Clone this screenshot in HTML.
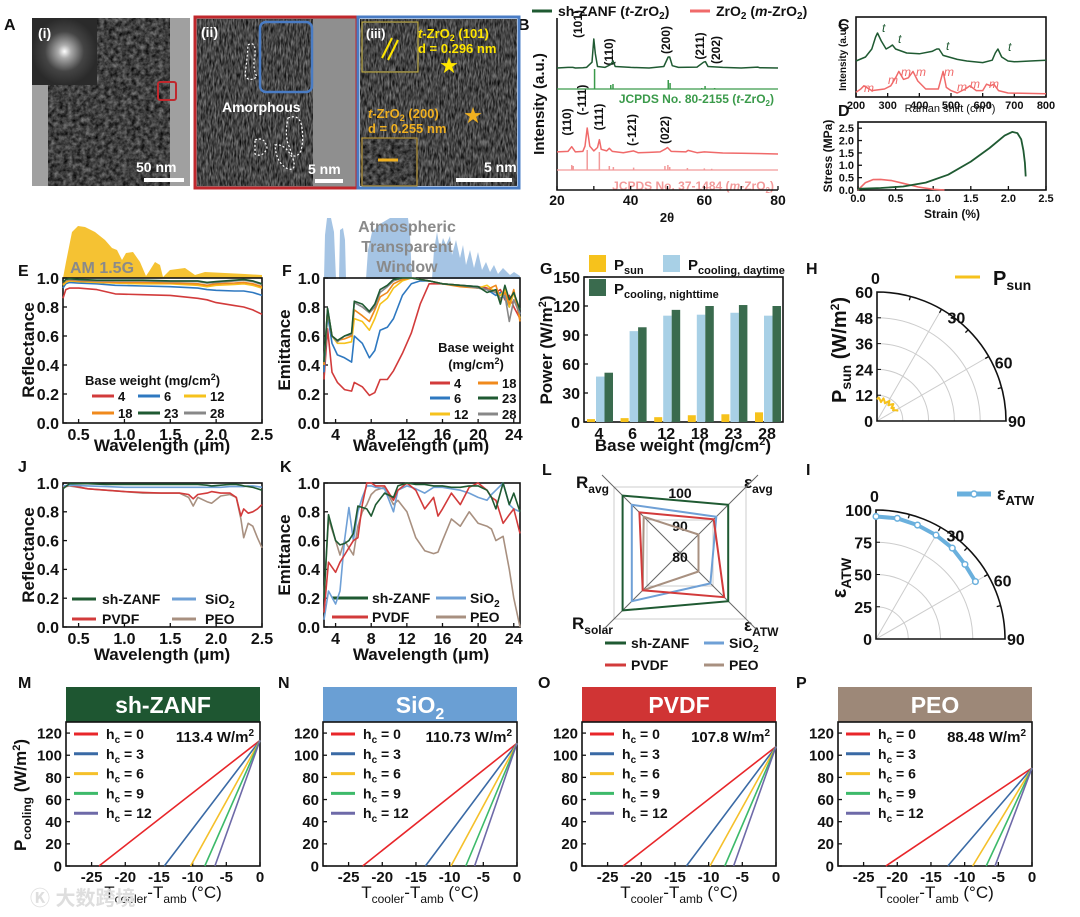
<!DOCTYPE html>
<html><head><meta charset="utf-8"><style>
html,body{margin:0;padding:0;background:#fff}
svg{display:block;font-family:"Liberation Sans","Noto Sans CJK SC",sans-serif;font-weight:bold}
</style></head><body>
<svg id="fig" width="1080" height="917" viewBox="0 0 1080 917" xmlns="http://www.w3.org/2000/svg">
<defs>
<filter id="tex" x="0" y="0" width="1" height="1" color-interpolation-filters="sRGB"><feTurbulence type="fractalNoise" baseFrequency="0.22" numOctaves="3" seed="4"/><feColorMatrix type="matrix" values="0.6 0 0 0 -0.05  0.6 0 0 0 -0.05  0.6 0 0 0 -0.05  0 0 0 0 1"/></filter>
<filter id="tex2" x="0" y="0" width="1" height="1" color-interpolation-filters="sRGB"><feTurbulence type="fractalNoise" baseFrequency="0.6 0.15" numOctaves="2" seed="9"/><feColorMatrix type="matrix" values="0.7 0 0 0 -0.08  0.7 0 0 0 -0.08  0.7 0 0 0 -0.08  0 0 0 0 1"/></filter>
<radialGradient id="fft"><stop offset="0" stop-color="#fff"/><stop offset="0.2" stop-color="#aaa"/><stop offset="0.6" stop-color="#444"/><stop offset="1" stop-color="#2a2a2a"/></radialGradient>
</defs>

<g font-size="16" fill="#111">
<text x="4" y="30">A</text><text x="518" y="30">B</text><text x="838" y="30">C</text><text x="838" y="116">D</text>
<text x="18" y="276">E</text><text x="282" y="276">F</text><text x="540" y="274">G</text><text x="806" y="274">H</text>
<text x="18" y="472">J</text><text x="280" y="472">K</text><text x="542" y="475">L</text><text x="806" y="475">I</text>
<text x="18" y="688">M</text><text x="278" y="688">N</text><text x="538" y="688">O</text><text x="796" y="688">P</text>
</g>

<g>
<rect x="32" y="18" width="158" height="168" fill="#a0a0a0"/>
<rect x="48" y="18" width="122" height="168" filter="url(#tex)"/>
<rect x="32" y="18" width="65" height="67" fill="url(#fft)"/>
<text x="38" y="38" fill="#fff" font-size="14">(i)</text>
<rect x="158" y="82" width="18" height="18" fill="none" stroke="#c0282d" stroke-width="2" rx="2"/>
<text x="136" y="172" fill="#fff" font-size="14">50 nm</text>
<rect x="144" y="178" width="40" height="4" fill="#fff"/>
</g>
<g>
<rect x="195" y="17" width="162" height="171" fill="#8f8f8f"/>
<rect x="197" y="19" width="116" height="167" filter="url(#tex2)"/>
<rect x="260" y="22" width="52" height="70" rx="6" fill="none" stroke="#4a7cc4" stroke-width="2.5"/>
<path d="M248 45 q8 -5 7 10 q-3 12 2 22 q-10 6 -12 -3 q2 -12 3 -29z M288 118 q12 -5 14 10 q2 15 -2 25 q-8 8 -10 -5 q-6 -10 -2 -30z M255 140 q10 -4 12 8 q-4 10 -12 6z M275 145 q10 -2 18 14 q4 12 -5 10 q-12 -6 -13 -24z" fill="none" stroke="#fff" stroke-width="1.2" stroke-dasharray="2 2"/>
<text x="222" y="112" fill="#fff" font-size="14">Amorphous</text>
<text x="201" y="37" fill="#fff" font-size="14">(ii)</text>
<text x="308" y="174" fill="#fff" font-size="14">5 nm</text>
<rect x="315" y="179" width="28" height="4" fill="#fff"/>
<rect x="195" y="17" width="162" height="171" fill="none" stroke="#c0282d" stroke-width="3"/>
</g>
<g>
<rect x="360" y="19" width="157" height="167" filter="url(#tex2)"/>
<rect x="362" y="22" width="56" height="50" fill="#555" stroke="#c9b23a" stroke-width="1"/>
<rect x="363" y="23" width="54" height="48" filter="url(#tex2)"/>
<line x1="382" y1="58" x2="392" y2="38" stroke="#ffe600" stroke-width="2"/><line x1="388" y1="60" x2="398" y2="40" stroke="#ffe600" stroke-width="2"/>
<text x="366" y="38" fill="#fff" font-size="13">(iii)</text>
<text x="418" y="38" fill="#ffe600" font-size="13"><tspan font-style="italic">t</tspan>-ZrO<tspan font-size="9" dy="3">2</tspan><tspan dy="-3"> (101)</tspan></text>
<text x="418" y="53" fill="#ffe600" font-size="13">d = 0.296 nm</text>
<text x="440" y="72" fill="#ffe600" font-size="18">★</text>
<text x="368" y="118" fill="#f0b020" font-size="13"><tspan font-style="italic">t</tspan>-ZrO<tspan font-size="9" dy="3">2</tspan><tspan dy="-3"> (200)</tspan></text>
<text x="368" y="133" fill="#f0b020" font-size="13">d = 0.255 nm</text>
<text x="464" y="122" fill="#f0b020" font-size="18">★</text>
<rect x="362" y="138" width="55" height="48" fill="#444" stroke="#c9a030" stroke-width="1"/>
<rect x="363" y="139" width="53" height="46" filter="url(#tex)"/>
<line x1="378" y1="160" x2="398" y2="160" stroke="#f0b020" stroke-width="3"/>
<text x="484" y="172" fill="#fff" font-size="14">5 nm</text>
<rect x="456" y="178" width="56" height="4" fill="#fff"/>
<rect x="358" y="17" width="161" height="171" fill="none" stroke="#4a7cc4" stroke-width="3"/>
</g>

<g font-size="14">
<line x1="532" y1="11" x2="552" y2="11" stroke="#1f5a32" stroke-width="3"/>
<text x="558" y="16" fill="#111">sh-ZANF (<tspan font-style="italic">t</tspan>-ZrO<tspan font-size="10" dy="3">2</tspan><tspan dy="-3">)</tspan></text>
<line x1="690" y1="11" x2="710" y2="11" stroke="#f06a6a" stroke-width="3"/>
<text x="716" y="16" fill="#111">ZrO<tspan font-size="10" dy="3">2</tspan><tspan dy="-3"> (</tspan><tspan font-style="italic">m</tspan>-ZrO<tspan font-size="10" dy="3">2</tspan><tspan dy="-3">)</tspan></text>
</g>
<g font-size="12" fill="#111">
<text transform="translate(582,24) rotate(-90)" text-anchor="middle">(101)</text>
<text transform="translate(613,52) rotate(-90)" text-anchor="middle">(110)</text>
<text transform="translate(670,40) rotate(-90)" text-anchor="middle">(200)</text>
<text transform="translate(704,46) rotate(-90)" text-anchor="middle">(211)</text>
<text transform="translate(720,50) rotate(-90)" text-anchor="middle">(202)</text>
<text transform="translate(571,122) rotate(-90)" text-anchor="middle">(110)</text>
<text transform="translate(586,100) rotate(-90)" text-anchor="middle">(-111)</text>
<text transform="translate(603,117) rotate(-90)" text-anchor="middle">(111)</text>
<text transform="translate(636,130) rotate(-90)" text-anchor="middle">(-121)</text>
<text transform="translate(669,130) rotate(-90)" text-anchor="middle">(022)</text>
<text x="774" y="103" text-anchor="end" fill="#3a9a4a" font-size="12">JCPDS No. 80-2155 (<tspan font-style="italic">t</tspan>-ZrO<tspan font-size="8" dy="3">2</tspan><tspan dy="-3">)</tspan></text>
<text x="774" y="190" text-anchor="end" fill="#f29a9a" font-size="12">JCPDS No. 37-1484 (<tspan font-style="italic">m</tspan>-ZrO<tspan font-size="8" dy="3">2</tspan><tspan dy="-3">)</tspan></text>
<text transform="translate(544,104) rotate(-90)" text-anchor="middle" font-size="15">Intensity (a.u.)</text>
<text x="667" y="222" text-anchor="middle" font-size="13">2θ</text>
</g>
<g font-size="12" font-style="italic" font-weight="normal">
<text x="846" y="57" transform="rotate(-90,846,57)" text-anchor="middle" font-style="normal" font-weight="bold" font-size="10" fill="#111">Intensity (a.u.)</text>
<text x="950" y="112" text-anchor="middle" font-style="normal" font-size="11" fill="#111">Raman shift (cm<tspan font-size="8" dy="-4">-1</tspan><tspan dy="4">)</tspan></text>
<g fill="#1f5a32"><text x="882" y="32">t</text><text x="898" y="43">t</text><text x="946" y="50">t</text><text x="1008" y="51">t</text></g>
<g fill="#f06a6a"><text x="864" y="92">m</text><text x="888" y="84">m</text><text x="901" y="76">m</text><text x="916" y="76">m</text><text x="944" y="76">m</text><text x="957" y="91">m</text><text x="970" y="88">m</text><text x="989" y="88">m</text></g>
</g>
<g font-size="12" fill="#111">
<text transform="translate(832,156) rotate(-90)" text-anchor="middle" font-size="12">Stress (MPa)</text>
<text x="952" y="218" text-anchor="middle">Strain (%)</text>
</g>

<g>
<path d="M63 278 L66 262 L72 232 L78 226 L85 227 L95 232 L105 240 L112 248 L117 250 L122 260 L126 253 L133 252 L140 262 L146 276 L150 270 L155 262 L160 265 L163 277 L170 270 L185 268 L195 275 L205 272 L225 273 L245 274 L262 275 L262 278Z" fill="#f5c233"/>
<text x="70" y="273" fill="#8a8a8a" font-size="16">AM 1.5G</text>
</g>
<g>
<path d="M324 279 L325 235 L327 218 L331 218 L334 232 L336 279 L339 279 L340 230 L343 228 L345 240 L346 279 L366 279 L368 250 L372 232 L380 224 L390 218 L408 218 L410 235 L412 279 L432 279 L434 250 L437 232 L440 250 L443 238 L446 245 L450 236 L452 255 L456 240 L460 258 L463 245 L466 265 L470 250 L474 268 L478 252 L482 270 L486 262 L490 272 L494 265 L498 274 L503 268 L510 275 L514 272 L520 276 L520 279Z" fill="#8fb5dd" opacity="0.8"/>
<g fill="#8a8a8a" font-size="16" text-anchor="middle"><text x="407" y="232">Atmospheric</text><text x="407" y="252">Transparent</text><text x="407" y="272">Window</text></g>
</g>

<g font-size="13" fill="#111">
<text x="85" y="385">Base weight (mg/cm<tspan font-size="9" dy="-5">2</tspan><tspan dy="5">)</tspan></text>
<line x1="92" y1="396" x2="114" y2="396" stroke="#d23b3b" stroke-width="3"/><text x="118" y="401">4</text>
<line x1="138" y1="396" x2="160" y2="396" stroke="#2e78c0" stroke-width="3"/><text x="164" y="401">6</text>
<line x1="184" y1="396" x2="206" y2="396" stroke="#f6c21c" stroke-width="3"/><text x="210" y="401">12</text>
<line x1="92" y1="413" x2="114" y2="413" stroke="#f08a1c" stroke-width="3"/><text x="118" y="418">18</text>
<line x1="138" y1="413" x2="160" y2="413" stroke="#1f5a32" stroke-width="3"/><text x="164" y="418">23</text>
<line x1="184" y1="413" x2="206" y2="413" stroke="#888" stroke-width="3"/><text x="210" y="418">28</text>
</g>
<g font-size="13" fill="#111">
<text x="476" y="352" text-anchor="middle">Base weight</text>
<text x="476" y="369" text-anchor="middle">(mg/cm<tspan font-size="9" dy="-5">2</tspan><tspan dy="5">)</tspan></text>
<line x1="430" y1="383" x2="450" y2="383" stroke="#d23b3b" stroke-width="3"/><text x="454" y="388">4</text>
<line x1="478" y1="383" x2="498" y2="383" stroke="#f08a1c" stroke-width="3"/><text x="502" y="388">18</text>
<line x1="430" y1="398" x2="450" y2="398" stroke="#2e78c0" stroke-width="3"/><text x="454" y="403">6</text>
<line x1="478" y1="398" x2="498" y2="398" stroke="#1f5a32" stroke-width="3"/><text x="502" y="403">23</text>
<line x1="430" y1="414" x2="450" y2="414" stroke="#f6c21c" stroke-width="3"/><text x="454" y="419">12</text>
<line x1="478" y1="414" x2="498" y2="414" stroke="#888" stroke-width="3"/><text x="502" y="419">28</text>
</g>
<g font-size="15" fill="#111">
<rect x="589" y="255" width="17" height="17" fill="#f6c21c"/><text x="614" y="270">P<tspan font-size="11" dy="4">sun</tspan></text>
<rect x="663" y="255" width="17" height="17" fill="#a8d0e6"/><text x="688" y="270">P<tspan font-size="11" dy="4">cooling, daytime</tspan></text>
<rect x="589" y="279" width="17" height="17" fill="#3a6b4e"/><text x="614" y="294">P<tspan font-size="11" dy="4">cooling, nighttime</tspan></text>
</g>
<g font-size="14" fill="#111">
<line x1="72" y1="599" x2="96" y2="599" stroke="#1f5a32" stroke-width="3"/><text x="102" y="604">sh-ZANF</text>
<line x1="172" y1="599" x2="196" y2="599" stroke="#6fa0d6" stroke-width="3"/><text x="205" y="604">SiO<tspan font-size="10" dy="4">2</tspan></text>
<line x1="72" y1="619" x2="96" y2="619" stroke="#d23b3b" stroke-width="3"/><text x="102" y="624">PVDF</text>
<line x1="172" y1="619" x2="196" y2="619" stroke="#a89080" stroke-width="3"/><text x="205" y="624">PEO</text>
</g>
<g font-size="14" fill="#111">
<line x1="332" y1="598" x2="368" y2="598" stroke="#1f5a32" stroke-width="3"/><text x="372" y="603">sh-ZANF</text>
<line x1="436" y1="598" x2="466" y2="598" stroke="#6fa0d6" stroke-width="3"/><text x="470" y="603">SiO<tspan font-size="10" dy="4">2</tspan></text>
<line x1="332" y1="617" x2="368" y2="617" stroke="#d23b3b" stroke-width="3"/><text x="372" y="622">PVDF</text>
<line x1="436" y1="617" x2="466" y2="617" stroke="#a89080" stroke-width="3"/><text x="470" y="622">PEO</text>
</g>
<g font-size="14" fill="#111">
<line x1="605" y1="643" x2="626" y2="643" stroke="#1f5a32" stroke-width="3"/><text x="631" y="648">sh-ZANF</text>
<line x1="704" y1="643" x2="724" y2="643" stroke="#6fa0d6" stroke-width="3"/><text x="729" y="648">SiO<tspan font-size="10" dy="4">2</tspan></text>
<line x1="605" y1="665" x2="626" y2="665" stroke="#d23b3b" stroke-width="3"/><text x="631" y="670">PVDF</text>
<line x1="704" y1="665" x2="724" y2="665" stroke="#a89080" stroke-width="3"/><text x="729" y="670">PEO</text>
</g>
<g font-size="17" fill="#111">
<text x="576" y="488">R<tspan font-size="12" dy="5">avg</tspan></text>
<text x="744" y="488">ε<tspan font-size="12" dy="5">avg</tspan></text>
<text x="572" y="629">R<tspan font-size="12" dy="5">solar</tspan></text>
<text x="744" y="631">ε<tspan font-size="12" dy="5">ATW</tspan></text>
</g>
<g font-size="20" fill="#111">
<line x1="955" y1="277" x2="980" y2="277" stroke="#f6c21c" stroke-width="3"/><text x="993" y="285">P<tspan font-size="14" dy="5">sun</tspan></text>
</g>
<g font-size="18" fill="#111">
<line x1="957" y1="494" x2="991" y2="494" stroke="#6ab0dd" stroke-width="5"/><circle cx="974" cy="494" r="3" fill="#fff" stroke="#6ab0dd" stroke-width="1.5"/><text x="997" y="500">ε<tspan font-size="13" dy="5">ATW</tspan></text>
</g>
<g font-size="17" fill="#111" text-anchor="middle">
<text transform="translate(34,350) rotate(-90)">Reflectance</text>
<text x="162" y="451">Wavelength (μm)</text>
<text transform="translate(290,350) rotate(-90)">Emittance</text>
<text x="421" y="451">Wavelength (μm)</text>
<text transform="translate(552,350) rotate(-90)">Power (W/m<tspan font-size="11" dy="-6">2</tspan><tspan dy="6">)</tspan></text>
<text x="683" y="451">Base weight (mg/cm<tspan font-size="11" dy="-6">2</tspan><tspan dy="6">)</tspan></text>
<text transform="translate(846,350) rotate(-90)" font-size="20">P<tspan font-size="14" dy="5">sun</tspan><tspan dy="-5"> (W/m</tspan><tspan font-size="12" dy="-7">2</tspan><tspan dy="7">)</tspan></text>
<text transform="translate(34,555) rotate(-90)">Reflectance</text>
<text x="162" y="660">Wavelength (μm)</text>
<text transform="translate(290,555) rotate(-90)">Emittance</text>
<text x="421" y="660">Wavelength (μm)</text>
<text transform="translate(846,578) rotate(-90)" font-size="20">ε<tspan font-size="14" dy="5">ATW</tspan></text>
<text transform="translate(26,795) rotate(-90)">P<tspan font-size="12" dy="5">cooling</tspan><tspan dy="-5"> (W/m</tspan><tspan font-size="11" dy="-6">2</tspan><tspan dy="6">)</tspan></text>
<text x="163" y="898" font-weight="normal" font-size="17">T<tspan font-size="12" dy="5">cooler</tspan><tspan dy="-5">-T</tspan><tspan font-size="12" dy="5">amb</tspan><tspan dy="-5"> (°C)</tspan></text>
<text x="420" y="898" font-weight="normal" font-size="17">T<tspan font-size="12" dy="5">cooler</tspan><tspan dy="-5">-T</tspan><tspan font-size="12" dy="5">amb</tspan><tspan dy="-5"> (°C)</tspan></text>
<text x="679" y="898" font-weight="normal" font-size="17">T<tspan font-size="12" dy="5">cooler</tspan><tspan dy="-5">-T</tspan><tspan font-size="12" dy="5">amb</tspan><tspan dy="-5"> (°C)</tspan></text>
<text x="935" y="898" font-weight="normal" font-size="17">T<tspan font-size="12" dy="5">cooler</tspan><tspan dy="-5">-T</tspan><tspan font-size="12" dy="5">amb</tspan><tspan dy="-5"> (°C)</tspan></text>
</g>
<g font-size="23" fill="#fff" text-anchor="middle">
<rect x="66" y="687" width="194" height="35" fill="#1e5631"/><text x="163" y="713">sh-ZANF</text>
<rect x="323" y="687" width="194" height="35" fill="#6a9fd4"/><text x="420" y="713">SiO<tspan font-size="16" dy="6">2</tspan></text>
<rect x="582" y="687" width="194" height="35" fill="#d03434"/><text x="679" y="713">PVDF</text>
<rect x="838" y="687" width="194" height="35" fill="#9d8878"/><text x="935" y="713">PEO</text>
</g>
<g font-size="15" fill="#111" text-anchor="end">
<text x="254" y="742">113.4 W/m<tspan font-size="10" dy="-6">2</tspan></text>
<text x="512" y="742">110.73 W/m<tspan font-size="10" dy="-6">2</tspan></text>
<text x="770" y="742">107.8 W/m<tspan font-size="10" dy="-6">2</tspan></text>
<text x="1026" y="742">88.48 W/m<tspan font-size="10" dy="-6">2</tspan></text>
</g>
<text x="30" y="905" fill="#dedede" font-size="20">Ⓚ 大数跨境</text>

<g id="dyn"></g>
</svg>
<script>
const NS='http://www.w3.org/2000/svg';
const root=document.getElementById('dyn');
function el(tag,attrs,parent){const e=document.createElementNS(NS,tag);for(const k in attrs)e.setAttribute(k,attrs[k]);(parent||root).appendChild(e);return e;}
function sc(d0,d1,r0,r1){return v=>r0+(v-d0)/(d1-d0)*(r1-r0);}
function path(xs,ys,sx,sy,color,w,name){
  const p=el('path',{d:xs.map((x,i)=>(i?'L':'M')+sx(x).toFixed(1)+','+sy(ys[i]).toFixed(1)).join(''),fill:'none',stroke:color,'stroke-width':w||1.6,'stroke-linejoin':'round'});
  
  
  return p;}
function axes(x0,y0,x1,y1,sx,sy,xt,xl,yt,yl,fs,top){
  const g=el('g',{'font-size':fs,fill:'#111'});
  
  
  if(top!==false) el('rect',{x:x0,y:y0,width:x1-x0,height:y1-y0,fill:'none',stroke:'#111','stroke-width':1.6},g);
  else el('path',{d:`M${x0},${y0}V${y1}H${x1}`,fill:'none',stroke:'#111','stroke-width':1.6},g);
  xt.forEach((v,i)=>{const x=sx(v);el('line',{x1:x,x2:x,y1:y1,y2:y1-4,stroke:'#111','stroke-width':1.3},g);
    if(xl[i]!==''){const t=el('text',{x:x,y:y1+fs+1,'text-anchor':'middle'},g);t.textContent=xl[i];}});
  yt.forEach((v,i)=>{const y=sy(v);el('line',{x1:x0,x2:x0+4,y1:y,y2:y,stroke:'#111','stroke-width':1.3},g);
    if(yl.length){const t=el('text',{x:x0-4,y:y+fs*0.36,'text-anchor':'end'},g);t.textContent=yl[i];}});
}

/* B: XRD */
const xrdX=[20,23,23.8,24.3,25,27,28,29.5,30,30.4,31,33,34.6,35.2,35.8,40,45,49,50.2,50.6,51.3,53,58,59.8,60.3,61,65,70,74.5,75,80];
const xrdGreen=[0,0.02,0.02,0.02,0,0.01,0.02,0.2,1.0,0.5,0.05,0.02,0.12,0.25,0.05,0.02,0,0.05,0.38,0.38,0.08,0.02,0.03,0.2,0.22,0.05,0.02,0,0.03,0.01,0];
const xrdRedX=[20,23,24,25,27,27.6,28.2,28.9,30,31,31.5,32,33.5,34.2,35,38,40.8,42,45,48,49.5,50,51,55,55.6,58,60,65,70,80];
const xrdRed=[0.08,0.1,0.28,0.08,0.1,0.3,1.0,0.3,0.12,0.25,0.55,0.18,0.12,0.22,0.1,0.05,0.12,0.05,0.06,0.08,0.2,0.25,0.1,0.08,0.14,0.05,0.08,0.04,0.03,0];
const stickGX=[30.2,34.6,35.2,50.2,50.7,59.3,60.2,62.8];
const stickGH=[1,0.2,0.25,0.45,0.3,0.05,0.15,0.05];
const stickRX=[24,24.4,28.2,31.5,34.2,35.3,40.8,49.3,50.1,50.6,55.4,60,62];
const stickRH=[0.25,0.2,1,0.9,0.2,0.15,0.12,0.2,0.25,0.15,0.1,0.08,0.06];
const sxB=sc(20,80,557,778);
axes(557,18,778,190,sxB,v=>v,[20,30,40,50,60,70,80],['20','','40','','60','','80'],[],[],14,false);
path(xrdX,xrdGreen,sxB,v=>68-v*29,'#1f5a32',1.5,'xrd-sh-zanf');
path(xrdRedX,xrdRed,sxB,v=>154-v*26,'#f06a6a',1.5,'xrd-zro2');
el('line',{x1:557,x2:778,y1:89,y2:89,stroke:'#3a9a4a','stroke-width':1.3});
el('line',{x1:557,x2:778,y1:170,y2:170,stroke:'#f29a9a','stroke-width':1.3});
stickGX.forEach((v,i)=>{const l=el('line',{x1:sxB(v),x2:sxB(v),y1:89,y2:89-stickGH[i]*20,stroke:'#3a9a4a','stroke-width':1.5});
  
  });
stickRX.forEach((v,i)=>{const l=el('line',{x1:sxB(v),x2:sxB(v),y1:170,y2:170-stickRH[i]*20,stroke:'#f29a9a','stroke-width':1.5});
  
  });

/* C: Raman */
const ramX=[200,230,250,262,268,280,295,308,315,325,360,400,440,455,462,475,520,550,600,630,640,648,660,680,700,750,800];
const ramGreen=[0.45,0.5,0.6,0.75,0.8,0.7,0.6,0.63,0.65,0.6,0.55,0.54,0.57,0.6,0.6,0.52,0.47,0.45,0.43,0.46,0.55,0.6,0.5,0.45,0.44,0.45,0.46];
const ramRX=[200,215,225,250,290,310,325,335,350,365,380,395,420,460,468,475,485,500,520,545,560,580,600,612,625,635,650,680,800];
const ramRed=[0.06,0.1,0.14,0.08,0.1,0.14,0.24,0.32,0.22,0.24,0.32,0.2,0.1,0.1,0.22,0.32,0.12,0.08,0.05,0.1,0.14,0.08,0.08,0.16,0.14,0.16,0.08,0.05,0.04];
const sxC=sc(200,800,856,1046), syC=sc(0,1,97,17);
axes(856,17,1046,97,sxC,syC,[200,300,400,500,600,700,800],['200','300','400','500','600','700','800'],[],[],11);
path(ramX,ramGreen,sxC,syC,'#1f5a32',1.5,'raman-sh-zanf');
path(ramRX,ramRed,sxC,syC,'#f06a6a',1.5,'raman-zro2');

/* D */
const ssGX=[0,0.3,0.6,0.9,1.2,1.5,1.75,1.95,2.05,2.12,2.17,2.2,2.22,2.23];
const ssGY=[0.05,0.08,0.14,0.3,0.62,1.15,1.7,2.2,2.35,2.3,2.05,1.6,1.1,0.55];
const ssRX=[0,0.1,0.2,0.3,0.45,0.6,0.8,1.0,1.15];
const ssRY=[0,0.3,0.42,0.43,0.38,0.27,0.12,0.03,0];
const sxD=sc(0,2.5,858,1046), syD=sc(0,2.75,190,122);
axes(858,122,1046,190,sxD,syD,[0,0.5,1,1.5,2,2.5],['0.0','0.5','1.0','1.5','2.0','2.5'],[0,0.5,1,1.5,2,2.5],['0.0','0.5','1.0','1.5','2.0','2.5'],11);
path(ssRX,ssRY,sxD,syD,'#f06a6a',1.6,'stress-zro2');
path(ssGX,ssGY,sxD,syD,'#1f5a32',1.8,'stress-sh-zanf');

/* E */
const wlE=[0.33,0.36,0.4,0.5,0.7,0.9,1.2,1.5,1.8,1.9,2.0,2.2,2.3,2.4,2.5];
const rE4=[0.86,0.92,0.93,0.93,0.92,0.89,0.885,0.88,0.86,0.85,0.83,0.81,0.8,0.78,0.75];
const rE6=[0.93,0.96,0.97,0.965,0.96,0.95,0.945,0.94,0.93,0.92,0.915,0.91,0.91,0.9,0.88];
const rE12=[0.95,0.97,0.98,0.975,0.97,0.965,0.96,0.96,0.95,0.94,0.95,0.955,0.96,0.95,0.93];
const rE18=[0.96,0.98,0.985,0.98,0.975,0.97,0.97,0.965,0.96,0.95,0.96,0.965,0.97,0.96,0.94];
const rE23=[0.97,0.99,0.995,0.99,0.985,0.985,0.985,0.98,0.98,0.97,0.975,0.985,0.99,0.98,0.96];
const rE28=[0.97,0.985,0.99,0.985,0.98,0.98,0.98,0.975,0.975,0.965,0.97,0.98,0.985,0.975,0.955];
const sxE=sc(0.33,2.5,63,262), syE=sc(0,1,423,278);
const ticksY=[0,0.2,0.4,0.6,0.8,1.0], ticksYL=['0.0','0.2','0.4','0.6','0.8','1.0'];
axes(63,278,262,423,sxE,syE,[0.5,1,1.5,2,2.5],['0.5','1.0','1.5','2.0','2.5'],ticksY,ticksYL,16);
path(wlE,rE4,sxE,syE,'#d23b3b',1.6,'line-e-4');
path(wlE,rE6,sxE,syE,'#2e78c0',1.6,'line-e-6');
path(wlE,rE12,sxE,syE,'#f6c21c',1.6,'line-e-12');
path(wlE,rE18,sxE,syE,'#f08a1c',1.6,'line-e-18');
path(wlE,rE28,sxE,syE,'#888',1.6,'line-e-28');
path(wlE,rE23,sxE,syE,'#1f5a32',1.6,'line-e-23');

/* F */
const wlF=[2.7,3.1,3.6,4.2,5,5.8,6.1,7,7.8,8.4,9,9.8,10.5,11.5,12.5,13.5,14.5,16,18,20,21,22,22.5,23,23.5,24,24.7];
const eF4=[0.3,0.65,0.35,0.28,0.23,0.22,0.28,0.25,0.19,0.21,0.3,0.3,0.36,0.48,0.62,0.82,0.96,0.96,0.95,0.94,0.93,0.9,0.92,0.85,0.88,0.8,0.72];
const eF6=[0.35,0.75,0.55,0.47,0.45,0.42,0.6,0.55,0.45,0.5,0.64,0.66,0.72,0.88,0.96,0.98,0.98,0.96,0.95,0.94,0.92,0.88,0.9,0.86,0.8,0.9,0.75];
const eF12=[0.4,0.78,0.6,0.55,0.55,0.56,0.72,0.7,0.64,0.72,0.82,0.86,0.93,0.98,1.0,0.99,0.98,0.96,0.95,0.93,0.95,0.9,0.88,0.92,0.8,0.9,0.72];
const eF18=[0.4,0.78,0.6,0.57,0.58,0.6,0.78,0.74,0.7,0.78,0.87,0.9,0.96,0.99,1.0,0.99,0.98,0.96,0.94,0.93,0.92,0.95,0.85,0.9,0.82,0.92,0.7];
const eF23=[0.42,0.79,0.6,0.57,0.6,0.62,0.84,0.82,0.77,0.82,0.92,0.95,0.99,1.0,1.0,0.99,0.98,0.96,0.95,0.94,0.9,0.92,0.82,0.95,0.85,0.9,0.78];
const eF28=[0.42,0.79,0.6,0.56,0.6,0.61,0.83,0.8,0.76,0.8,0.9,0.94,0.98,1.0,1.0,0.99,0.98,0.96,0.95,0.93,0.92,0.9,0.86,0.88,0.7,0.85,0.75];
const sxF=sc(2.7,24.7,324,520), syF=sc(0,1,423,278);
axes(324,278,520,423,sxF,syF,[4,8,12,16,20,24],['4','8','12','16','20','24'],ticksY,ticksYL,16);
path(wlF,eF4,sxF,syF,'#d23b3b',1.6,'line-f-4');
path(wlF,eF6,sxF,syF,'#2e78c0',1.6,'line-f-6');
path(wlF,eF12,sxF,syF,'#f6c21c',1.6,'line-f-12');
path(wlF,eF18,sxF,syF,'#f08a1c',1.6,'line-f-18');
path(wlF,eF28,sxF,syF,'#888',1.6,'line-f-28');
path(wlF,eF23,sxF,syF,'#1f5a32',1.6,'line-f-23');

/* G */
const gCats=['4','6','12','18','23','28'];
const gSun=[3,4,5,7,8,10];
const gDay=[47,94,110,111,113,110];
const gNight=[51,98,116,120,121,120];
const syG=sc(0,150,422,277);
const cx=i=>599+i*33.6;
axes(584,277,783,422,v=>cx(v),syG,[0,1,2,3,4,5],gCats,[0,30,60,90,120,150],['0','30','60','90','120','150'],16);
gCats.forEach((c,i)=>{
  const b1=el('rect',{x:cx(i)-12,y:syG(gSun[i]),width:8,height:422-syG(gSun[i]),fill:'#f6c21c'});
  
  
  const b2=el('rect',{x:cx(i)-3,y:syG(gDay[i]),width:8.5,height:422-syG(gDay[i]),fill:'#a8d0e6'});
  
  
  const b3=el('rect',{x:cx(i)+5.5,y:syG(gNight[i]),width:8.5,height:422-syG(gNight[i]),fill:'#3a6b4e'});
  
  
});

function polar(cx0,cy0,R,rmax,rticks,rlabels,name){
  const g=el('g',{'font-size':16,fill:'#111'});
  
  
  rticks.forEach(v=>{if(v>0&&v<rmax){const r=v/rmax*R;el('path',{d:`M${cx0},${cy0-r}A${r},${r} 0 0 1 ${cx0+r},${cy0}`,fill:'none',stroke:'#ccc','stroke-width':1},g);}});
  [30,60].forEach(a=>{const t=a*Math.PI/180;el('line',{x1:cx0,y1:cy0,x2:cx0+R*Math.sin(t),y2:cy0-R*Math.cos(t),stroke:'#ccc','stroke-width':1},g);});
  el('path',{d:`M${cx0},${cy0}V${cy0-R}A${R},${R} 0 0 1 ${cx0+R},${cy0}Z`,fill:'none',stroke:'#111','stroke-width':1.6},g);
  [15,30,45,60,75].forEach(a=>{const t=a*Math.PI/180;el('line',{x1:cx0+R*Math.sin(t),y1:cy0-R*Math.cos(t),x2:cx0+(R-4)*Math.sin(t),y2:cy0-(R-4)*Math.cos(t),stroke:'#111','stroke-width':1.3},g);});
  rticks.forEach((v,i)=>{const y=cy0-v/rmax*R;el('line',{x1:cx0,x2:cx0+4,y1:y,y2:y,stroke:'#111'},g);const t=el('text',{x:cx0-4,y:y+6,'text-anchor':'end'},g);t.textContent=rlabels[i];});
  const lab=[['0',cx0-6,cy0-R-8],['30',cx0+R*0.5+6,cy0-R*0.866+14],['60',cx0+R*0.866+6,cy0-R*0.5+12],['90',cx0+R+2,cy0+6]];
  lab.forEach(l=>{const t=el('text',{x:l[1],y:l[2]},g);t.textContent=l[0];});
}
/* H */
const hAng=[0,4,8,12,16,20,24,28,32,36,40,44,48,52,56,60,64];
const hVal=[10,11,10,9,11,10,9,10,11,9,10,11,9,10,9,10,11];
polar(877,421,129,60,[0,12,24,36,48,60],['0','12','24','36','48','60'],'polar-psun');
path(hAng.map((a,i)=>877+hVal[i]/60*129*Math.sin(a*Math.PI/180)),hAng.map((a,i)=>421-hVal[i]/60*129*Math.cos(a*Math.PI/180)),v=>v,v=>v,'#f6c21c',2,'psun-series');
/* I */
const iAng=[0,10,20,30,40,50,60];
const iVal=[95,95,94,93,92,90,89];
polar(876,639,129,100,[0,25,50,75,100],['0','25','50','75','100'],'polar-eatw');
const ipx=iAng.map((a,i)=>876+iVal[i]/100*129*Math.sin(a*Math.PI/180)), ipy=iAng.map((a,i)=>639-iVal[i]/100*129*Math.cos(a*Math.PI/180));
path(ipx,ipy,v=>v,v=>v,'#6ab0dd',4,'eatw-series');
ipx.forEach((x,i)=>{const c=el('circle',{cx:x,cy:ipy[i],r:2.8,fill:'#fff',stroke:'#6ab0dd','stroke-width':1.5});
  
  });

/* J */
const wlJ=[0.33,0.4,0.6,0.8,1.0,1.2,1.4,1.6,1.7,1.75,1.8,1.9,1.95,2.05,2.15,2.22,2.27,2.3,2.35,2.4,2.45,2.5];
const rJZ=[0.96,0.995,0.995,0.99,0.99,0.99,0.99,0.99,0.99,0.99,0.99,0.985,0.98,0.985,0.99,0.99,0.985,0.98,0.975,0.97,0.96,0.95];
const rJS=[0.98,0.985,0.98,0.975,0.97,0.97,0.97,0.97,0.97,0.97,0.97,0.97,0.97,0.97,0.975,0.975,0.975,0.975,0.98,0.98,0.975,0.97];
const rJP=[0.97,0.985,0.96,0.95,0.94,0.935,0.93,0.93,0.92,0.89,0.92,0.93,0.94,0.93,0.93,0.9,0.77,0.82,0.79,0.8,0.82,0.85];
const rJE=[0.97,0.98,0.96,0.95,0.94,0.93,0.93,0.93,0.9,0.84,0.9,0.87,0.86,0.91,0.92,0.9,0.75,0.62,0.72,0.7,0.62,0.55];
const syJ=sc(0,1,627,483);
axes(63,483,262,627,sxE,syJ,[0.5,1,1.5,2,2.5],['0.5','1.0','1.5','2.0','2.5'],ticksY,ticksYL,16);
path(wlJ,rJE,sxE,syJ,'#a89080',1.6,'line-j-peo');
path(wlJ,rJP,sxE,syJ,'#d23b3b',1.6,'line-j-pvdf');
path(wlJ,rJS,sxE,syJ,'#6fa0d6',1.6,'line-j-sio2');
path(wlJ,rJZ,sxE,syJ,'#1f5a32',1.6,'line-j-sh-zanf');

/* K */
const wlK=[2.7,3.2,4,4.5,5,5.5,6,6.5,7,7.5,8,8.5,9.5,10.5,11,12,13,14,15,15.5,16,17,18,19,20,21,21.5,22,22.8,23.5,24,24.7];
const eKZ=[0.2,0.78,0.6,0.57,0.58,0.6,0.65,0.84,0.83,0.82,0.77,0.85,0.93,0.9,0.98,1.0,0.99,0.99,0.98,0.98,0.98,0.97,0.97,0.98,0.98,0.95,0.9,0.82,1.0,0.85,0.93,0.8];
const eKS=[0.05,0.25,0.16,0.25,0.6,0.83,0.6,0.8,0.9,0.98,0.98,0.97,0.96,0.8,0.95,0.98,0.96,0.93,0.97,0.97,0.97,0.96,0.95,0.93,0.9,0.88,0.92,0.95,1.0,0.85,0.82,0.8];
const eKP=[0.1,0.45,0.38,0.45,0.5,0.55,0.6,0.62,0.85,1.0,1.0,0.98,0.98,0.88,0.95,1.0,0.95,0.82,0.9,0.77,0.82,0.93,0.85,0.97,1.0,0.95,0.9,0.88,0.72,0.78,0.82,0.65];
const eKE=[0.2,0.75,0.6,0.5,0.6,0.55,0.5,0.7,0.8,0.85,0.92,0.95,0.97,0.85,0.88,0.8,0.62,0.53,0.51,0.52,0.6,0.75,0.7,0.8,0.72,0.7,0.68,0.6,0.63,0.4,0.2,0.0];
const syK=sc(0,1,627,483);
axes(324,483,520,627,sxF,syK,[4,8,12,16,20,24],['4','8','12','16','20','24'],ticksY,ticksYL,16);
path(wlK,eKE,sxF,syK,'#a89080',1.6,'line-k-peo');
path(wlK,eKS,sxF,syK,'#6fa0d6',1.6,'line-k-sio2');
path(wlK,eKP,sxF,syK,'#d23b3b',1.6,'line-k-pvdf');
path(wlK,eKZ,sxF,syK,'#1f5a32',1.6,'line-k-sh-zanf');

/* L radar */
const radarAxes=['R_avg','eps_avg','eps_ATW','R_solar'];
const radZ=[97.4,94.6,94.6,97.4];
const radS=[94.6,91,89.2,94.6];
const radP=[92.3,90.2,93.4,91.3];
const radE=[91,85.6,85.6,91.3];
const LCX=680, LCY=553, HALF=66;
const dirs=[[-1,-1],[1,-1],[1,1],[-1,1]];
const rr=v=>(v-80)/20*HALF;
const gL=el('g',{});


[80.5,90,100].forEach(v=>{const h=rr(v);el('rect',{x:LCX-h,y:LCY-h,width:2*h,height:2*h,fill:'none',stroke:'#ccc','stroke-width':1},gL);});
dirs.forEach(d=>el('line',{x1:LCX,y1:LCY,x2:LCX+d[0]*(HALF+12),y2:LCY+d[1]*(HALF+12),stroke:'#666','stroke-width':1},gL));
[['100',100],['90',90],['80',80.6]].forEach(t=>{const e=el('text',{x:LCX,y:LCY-rr(t[1])+11,'text-anchor':'middle','font-size':14,fill:'#111'},gL);e.textContent=t[0];});
function radar(vals,color,name){const pts=vals.map((v,i)=>(LCX+dirs[i][0]*rr(v)).toFixed(1)+','+(LCY+dirs[i][1]*rr(v)).toFixed(1)).join(' ');
  const p=el('polygon',{points:pts,fill:'none',stroke:color,'stroke-width':2});
  
  }
radar(radE,'#a89080','radar-peo');
radar(radS,'#6fa0d6','radar-sio2');
radar(radP,'#d23b3b','radar-pvdf');
radar(radZ,'#1f5a32','radar-sh-zanf');

/* M-P */
const hcLabels=['0','3','6','9','12'];
const hcColors=['#e8262a','#3a6aa5','#f5c02a','#3dba6a','#6e6aa8'];
const pMax=[113.4,110.73,107.8,88.48];
const interM=[-23.9,-14.2,-10.3,-8.2,-6.7];
const interN=[-22.9,-13.6,-9.8,-7.6,-6.3];
const interO=[-22.7,-13.3,-9.8,-7.6,-6.3];
const interP=[-21.7,-12.5,-8.8,-6.8,-5.5];
const panelX=[[66,260],[323,517],[582,776],[838,1032]];
[interM,interN,interO,interP].forEach((inter,k)=>{
  const x0=panelX[k][0],x1=panelX[k][1];
  const sx=sc(-28.8,0,x0,x1), sy=sc(0,130,866,722);
  axes(x0,722,x1,866,sx,sy,[-25,-20,-15,-10,-5,0],['-25','-20','-15','-10','-5','0'],[0,20,40,60,80,100,120],['0','20','40','60','80','100','120'],15);
  inter.forEach((xi,j)=>{
    path([xi,0],[0,pMax[k]],sx,sy,hcColors[j],1.6,'cooling-line-hc-'+hcLabels[j]);
    const y=734+j*19.8;
    const lg=el('line',{x1:x0+8,x2:x0+32,y1:y,y2:y,stroke:hcColors[j],'stroke-width':3});
    
    
    const t=el('text',{x:x0+40,y:y+5,'font-size':14,fill:'#111'});
    
    
    const a=el('tspan',{},t);a.textContent='h';
    const b=el('tspan',{'font-size':10,dy:4},t);b.textContent='c';
    const c=el('tspan',{dy:-4},t);c.textContent=' = '+hcLabels[j];
  });
});
</script>
</body></html>
